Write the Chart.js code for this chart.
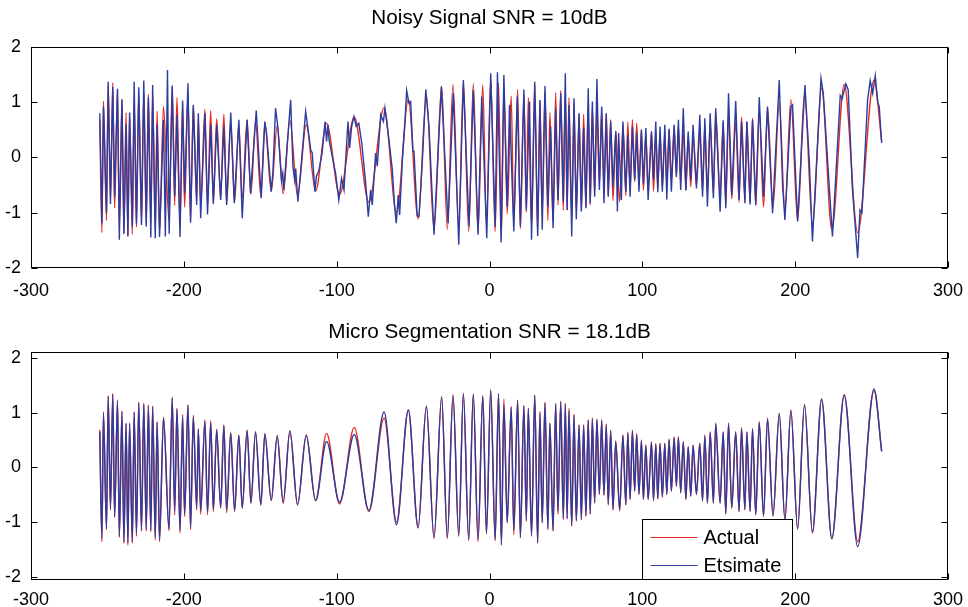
<!DOCTYPE html>
<html>
<head>
<meta charset="utf-8">
<script src="https://cdn.jsdelivr.net/npm/chart.js@4.4.1/dist/chart.umd.min.js"></script>
<style>
  html, body { margin: 0; padding: 0; background: #fff; }
  #wrap { position: relative; width: 968px; height: 607px; overflow: hidden; }
  canvas { position: absolute; left: 0; }
  #c1 { top: 0; }
  #c2 { top: 305px; }
</style>
</head>
<body>
<div id="wrap">
  <canvas id="c1" width="968" height="305"></canvas>
  <canvas id="c2" width="968" height="302"></canvas>
</div>
<script>
// peaks and troughs (x in samples, y amplitude)
const actualX = [
  -255.0,-253.6,-252.6,-250.6,-249.5,-248.0,-246.5,-245.3,-243.4,-242.2,-240.5,-239.2,-237.8,-236.6,-235.5,-233.7,-232.5,-231.0,-229.5,-227.7,
  -226.2,-224.6,-223.2,-221.6,-220.4,-218.7,-217.5,-215.9,-213.3,-209.7,-207.6,-206.0,-204.5,-202.5,-200.8,-199.5,-197.3,-195.6,-193.8,-191.6,
  -190.5,-189.0,-186.2,-184.5,-182.4,-180.7,-178.5,-175.9,-173.8,-172.0,-169.3,
  -166.8,-164.0,-161.8,-158.6,-156.1,-153.1,-149.6,-147.0,-142.8,-138.9,-135.0,-130.6,-125.6,-119.9,-113.8,-106.6,-98.1,-88.5,-78.9,
  -69.0,-60.8,-53.1,-46.7,-41.3,-36.3,-31.3,-27.6,-23.9,-20.1,-17.1,-13.6,-10.6,-7.5,-4.4,-2.0,0.8,3.7,5.9,7.8,
  9.4,11.6,14.2,15.9,18.4,20.2,22.5,24.1,25.4,27.5,29.6,31.5,33.0,34.5,36.3,38.2,39.5,41.6,43.3,44.8,
  46.6,48.3,49.6,50.8,52.0,53.8,55.3,56.8,58.6,60.1,61.6,63.1,64.6,65.9,67.3,68.8,70.3,71.9,73.4,74.9,
  76.4,77.7,79.3,80.8,82.6,85.2,87.3,89.2,90.5,92.0,93.5,95.0,96.3,
  97.8,99.4,100.7,102.3,103.8,106.0,107.3,108.8,110.1,111.6,113.1,114.7,116.0,117.5,119.0,120.8,122.3,123.6,125.1,126.8,
  128.5,130.0,131.7,133.2,135.4,137.6,139.4,140.9,142.6,144.4,146.5,148.0,150.9,152.9,154.6,156.4,158.5,161.1,163.3,164.9,
  167.1,168.4,170.5,172.1,174.2,176.5,179.3,181.9,185.5,
  189.6,193.3,197.2,201.6,206.1,211.3,217.3,224.0,232.1,240.9,251.6,256.6
];
const actualY = [
  0.68,-1.36,1.02,-1.14,1.31,-0.78,1.35,-0.92,1.23,-1.28,1.03,-1.39,0.81,-1.42,0.81,-1.39,1.02,-1.26,1.19,-1.17,
  1.17,-1.17,1.14,-1.18,1.12,-1.33,0.84,-1.36,0.92,-1.16,1.28,-0.87,1.08,-1.20,0.97,-0.90,1.15,-1.14,0.95,-0.78,
  0.71,-0.86,0.87,-0.87,0.85,-0.81,0.70,-0.75,0.78,-0.83,0.64,
  -0.81,0.59,-0.75,0.68,-0.66,0.65,-0.69,0.62,-0.61,0.58,-0.66,0.67,-0.69,0.59,-0.61,0.62,-0.67,0.73,-0.81,
  0.90,-1.00,1.05,-1.11,1.12,-1.30,1.29,-1.30,1.32,-1.26,1.35,-1.34,1.34,-1.36,1.31,-1.22,1.42,-1.34,1.35,-1.42,
  1.25,-1.02,1.11,-1.23,1.23,-1.29,1.13,-0.99,1.08,-1.26,1.32,-1.39,1.02,-1.02,1.19,-1.14,0.81,-1.17,1.17,-0.86,
  1.21,-0.96,1.17,-0.95,1.08,-1.08,0.97,-0.99,0.78,-0.96,0.78,-0.90,0.87,-0.86,0.90,-0.66,0.88,-0.50,0.87,-0.51,
  0.79,-0.69,0.68,-0.78,0.48,-0.80,0.59,-0.69,0.64,-0.59,0.68,-0.44,0.62,
  -0.50,0.50,-0.59,0.41,-0.59,0.47,-0.61,0.43,-0.58,0.44,-0.55,0.44,-0.50,0.52,-0.44,0.56,-0.35,0.56,-0.47,0.47,
  -0.59,0.38,-0.53,0.41,-0.50,0.44,-0.62,0.59,-0.66,0.65,-0.66,0.81,-0.66,0.65,-0.86,0.81,-0.75,0.65,-0.81,0.73,
  -0.78,0.65,-0.81,0.71,-0.87,0.84,-0.90,0.90,-0.90,
  0.99,-0.96,1.05,-1.14,1.15,-1.20,1.25,-1.31,1.32,-1.36,1.40,0.29
];
// micro segmentation estimate, same sample positions as actualX
const estimateY = [
  0.65,-1.30,0.98,-1.12,1.29,-0.75,1.33,-0.90,1.21,-1.26,1.01,-1.36,0.80,-1.38,0.80,-1.36,1.00,-1.20,1.17,-1.14,
  1.15,-1.13,1.12,-1.15,1.10,-1.28,0.82,-1.33,0.90,-1.13,1.26,-0.80,1.06,-1.16,0.93,-0.86,1.13,-1.10,0.92,-0.73,
  0.69,-0.80,0.84,-0.82,0.82,-0.77,0.68,-0.73,0.76,-0.78,0.62,
  -0.79,0.58,-0.74,0.67,-0.65,0.64,-0.68,0.60,-0.60,0.57,-0.64,0.66,-0.68,0.58,-0.61,0.47,-0.64,0.60,-0.79,
  1.01,-1.05,1.05,-1.10,1.11,-1.28,1.28,-1.29,1.31,-1.24,1.34,-1.32,1.33,-1.33,1.30,-1.20,1.41,-1.33,1.34,-1.41,
  1.14,-1.00,1.10,-1.15,1.21,-1.27,1.12,-0.96,1.07,-1.24,1.31,-1.37,0.98,-1.00,1.17,-1.12,0.80,-1.15,1.15,-0.80,
  1.19,-0.93,1.15,-0.93,1.03,-1.06,0.95,-0.97,0.77,-0.95,0.76,-0.88,0.86,-0.85,0.88,-0.64,0.87,-0.48,0.85,-0.50,
  0.77,-0.67,0.66,-0.77,0.47,-0.78,0.58,-0.68,0.62,-0.58,0.66,-0.43,0.60,
  -0.49,0.48,-0.58,0.40,-0.58,0.45,-0.60,0.42,-0.57,0.43,-0.54,0.43,-0.49,0.50,-0.43,0.54,-0.34,0.55,-0.46,0.46,
  -0.58,0.37,-0.52,0.40,-0.49,0.43,-0.61,0.57,-0.65,0.63,-0.65,0.79,-0.65,0.64,-0.84,0.79,-0.74,0.64,-0.80,0.71,
  -0.77,0.64,-0.80,0.70,-0.86,0.82,-0.89,0.88,-0.88,
  0.98,-0.97,1.04,-1.12,1.14,-1.18,1.24,-1.30,1.32,-1.45,1.43,0.29
];
// noisy signal (top panel, blue)
const noisyX = [
  -255.0,-253.6,-252.6,-250.6,-249.5,-248.0,-246.5,-245.3,-243.4,-242.2,-240.5,-239.2,-237.8,-236.6,-235.5,-233.7,-232.5,-231.0,-229.5,-227.7,
  -226.2,-224.6,-223.2,-221.6,-220.4,-218.7,-217.5,-215.9,-213.3,-212.1,-210.7,-209.6,-207.6,-206.0,-204.5,-202.5,-200.8,-199.5,-197.3,-195.6,
  -193.8,-191.6,-190.5,-189.0,-186.2,-184.5,-182.4,-180.7,-178.5,-175.9,-173.8,-172.0,-169.3,
  -167.0,-164.0,-161.8,-158.6,-156.4,-152.6,-149.4,-147.0,-145.9,-142.8,-141.7,-140.0,-138.5,-136.1,-135.3,-134.6,-130.1,-128.6,-127.5,-126.8,
  -125.4,-123.7,-120.3,-118.1,-117.0,-116.0,-114.2,-113.3,-111.6,-109.5,-107.6,-106.6,-105.7,-105.0,-102.9,-100.7,-98.6,-96.8,-95.2,-94.1,
  -92.6,-91.5,-90.2,-88.7,-87.2,-85.5,-83.6,-81.0,-79.3,
  -77.8,-76.7,-74.5,-73.4,-71.2,-69.4,-68.4,-65.8,-63.6,-62.1,-61.0,-59.7,-58.8,-57.0,-55.5,-54.2,-52.7,-51.6,-50.1,-49.4,
  -47.3,-46.1,-43.9,-41.7,-39.6,-36.3,-31.5,-27.1,-23.7,-20.1,-17.1,-13.4,-10.6,-7.5,-5.1,-1.8,0.8,3.7,5.2,7.6,
  9.4,11.6,13.1,15.9,18.2,20.2,22.5,24.1,26.2,27.5,29.6,31.5,33.0,34.5,36.3,38.2,40.0,41.6,43.3,44.8,
  46.6,48.3,49.6,50.8,52.0,53.8,55.3,56.8,58.6,60.1,61.6,63.1,64.6,65.9,67.3,68.8,70.3,71.9,73.4,74.9,
  76.4,77.7,79.3,80.8,82.6,83.7,84.5,86.3,87.3,89.2,90.5,92.0,93.5,95.0,96.3,
  97.8,99.4,100.7,102.3,103.8,106.0,107.3,108.8,110.1,111.6,113.1,114.7,116.0,117.5,119.0,120.8,122.3,123.6,125.1,126.8,
  128.5,130.0,131.7,133.2,135.4,137.6,139.4,140.9,142.6,144.4,146.5,148.0,150.9,152.9,154.6,156.4,158.5,161.1,163.3,164.9,
  167.1,168.4,170.5,172.1,174.2,176.5,179.3,181.9,185.2,
  189.6,191.8,193.3,197.2,198.3,201.6,206.4,209.2,211.3,216.9,218.4,224.4,229.5,230.7,233.2,234.7,237.5,240.9,242.4,243.7,
  247.4,249.1,250.7,252.4,254.0,255.0,256.6
];
const noisyY = [
  0.80,-1.19,0.92,-1.00,1.37,-0.84,1.28,-0.71,1.24,-1.49,1.05,-1.37,0.60,-1.43,0.81,-1.25,1.37,-1.20,1.27,-1.22,
  1.39,-1.25,1.09,-1.45,1.31,-1.46,0.60,-1.44,0.68,-1.43,1.58,-1.38,1.30,-0.70,0.77,-1.44,1.03,-0.65,1.34,-1.18,
  0.95,-0.86,0.80,-1.10,0.80,-1.03,0.59,-0.84,0.59,-0.77,0.56,-0.86,0.81,
  -0.83,0.68,-1.10,0.68,-0.65,0.85,-0.74,0.65,0.44,-0.62,-0.26,0.89,0.56,-0.41,-0.29,-0.59,1.04,-0.17,-0.41,-0.20,
  -0.80,-0.29,0.83,0.38,0.14,0.08,-0.62,-0.35,-0.23,0.08,0.65,0.29,0.59,0.32,0.02,-0.29,-0.77,-0.38,-0.59,-0.04,
  0.65,0.17,0.56,0.74,0.56,0.62,0.26,-0.47,-1.07,
  -0.59,-0.86,0.08,-0.16,0.77,0.65,0.89,0.32,-0.22,-0.89,-1.19,-0.68,-1.04,-0.04,0.56,1.21,0.98,1.01,0.11,0.11,
  -1.06,-1.07,-0.05,1.23,0.56,-1.40,1.28,-1.19,1.16,-1.58,1.40,-1.25,1.22,-1.40,1.10,-1.46,1.52,-1.25,1.54,-1.54,
  1.49,-0.89,0.95,-1.34,1.10,-1.25,1.23,-0.95,1.01,-1.49,1.37,-1.42,1.04,-1.31,1.29,-0.89,0.56,-1.28,0.89,-0.77,
  1.16,-0.80,1.52,-0.95,0.95,-1.43,1.07,-1.12,0.80,-0.98,0.53,-0.92,1.25,-0.83,1.01,-0.71,1.42,-0.59,0.92,-0.83,
  0.80,-0.71,0.65,-0.53,0.47,-0.98,0.44,-0.77,0.65,-0.62,0.41,-0.71,0.56,-0.41,0.45,
  -0.62,0.50,-0.47,0.53,-0.77,0.47,-0.40,0.65,-0.63,0.56,-0.62,0.59,-0.76,0.51,-0.62,0.59,-0.35,0.68,-0.59,0.89,
  -0.60,0.47,-0.41,0.59,-0.56,0.77,-0.71,0.71,-0.89,0.80,-0.74,0.89,-0.98,0.67,-0.92,1.16,-0.68,1.02,-0.77,0.65,
  -0.83,0.65,-0.85,0.68,-0.86,1.09,-0.71,0.92,-1.01,
  1.40,-0.53,-1.13,0.92,0.95,-1.16,1.31,-0.04,-1.52,1.43,1.16,-1.43,1.12,1.06,1.33,1.22,-0.59,-1.82,-0.95,-1.00,
  1.04,1.39,1.16,1.48,1.00,0.92,0.26
];

const xTicks = [-300, -200, -100, 0, 100, 200, 300];
const yTicks = [-2, -1, 0, 1, 2];

const RED = '#e62a22';
const BLUE = '#2b3da0';
const FONT = "'Liberation Sans', Arial, Helvetica, sans-serif";

function toPoints(xs, ys) {
  return xs.map((x, i) => ({ x: x, y: ys[i] }));
}

// box around the axes plus inward tick marks, matlab style
const boxPlugin = {
  id: 'box',
  afterDatasetsDraw(chart) {
    const { ctx, chartArea: a, scales } = chart;
    const L = Math.round(a.left) + 0.5, R = Math.round(a.right) - 0.5;
    const T = Math.round(a.top) + 0.5, B = Math.round(a.bottom) - 0.5;
    ctx.save();
    ctx.strokeStyle = '#000';
    ctx.lineWidth = 1;
    ctx.strokeRect(L, T, R - L, B - T);
    ctx.beginPath();
    scales.x.ticks.forEach(t => {
      const px = Math.round(scales.x.getPixelForValue(t.value)) + 0.5;
      ctx.moveTo(px, B); ctx.lineTo(px, B - 6);
      ctx.moveTo(px, T); ctx.lineTo(px, T + 6);
    });
    scales.y.ticks.forEach(t => {
      const py = Math.round(scales.y.getPixelForValue(t.value)) + 0.5;
      ctx.moveTo(L, py); ctx.lineTo(L + 6, py);
      ctx.moveTo(R, py); ctx.lineTo(R - 6, py);
    });
    ctx.stroke();
    ctx.restore();
  }
};

// legend box sitting inside the bottom-right of the lower axes
const legendBox = {
  id: 'legendBox',
  afterDatasetsDraw(chart) {
    const { ctx, chartArea: a } = chart;
    const x0 = 642.5, x1 = 792.5, y0 = a.bottom - 60.5, y1 = a.bottom - 0.5;
    ctx.save();
    ctx.fillStyle = '#fff';
    ctx.fillRect(x0, y0, x1 - x0, y1 - y0);
    ctx.strokeStyle = '#000';
    ctx.lineWidth = 1;
    ctx.strokeRect(x0, y0, x1 - x0, y1 - y0);
    ctx.font = '20px ' + FONT;
    ctx.textBaseline = 'middle';
    ctx.fillStyle = '#000';
    const rows = [y0 + 18, y0 + 46];
    chart.data.datasets.slice().reverse().forEach((ds, i) => {
      ctx.strokeStyle = ds.borderColor;
      ctx.beginPath();
      ctx.moveTo(x0 + 8, rows[i]);
      ctx.lineTo(x0 + 55, rows[i]);
      ctx.stroke();
      ctx.fillText(ds.label, x0 + 61, rows[i] + 1);
    });
    ctx.restore();
  }
};

function makeOptions(title, titlePad, yMin, yMax, xAxisH, xTickPad) {
  return {
    responsive: false,
    animation: false,
    layout: { padding: { left: 0, right: 20, top: 0, bottom: 0 }, autoPadding: false },
    plugins: {
      legend: { display: false },
      tooltip: { enabled: false },
      title: {
        display: true,
        text: title,
        fullSize: false,
        color: '#000',
        font: { family: FONT, size: 20.7, weight: 'normal' },
        padding: titlePad
      }
    },
    scales: {
      x: {
        type: 'linear',
        min: -300,
        max: 300,
        afterBuildTicks: s => { s.ticks = xTicks.map(v => ({ value: v })); },
        afterFit: s => { s.height = xAxisH; s.paddingLeft = 0; s.paddingRight = 0; },
        grid: { display: false, drawTicks: false },
        border: { display: false },
        ticks: {
          color: '#000',
          padding: xTickPad,
          autoSkip: false,
          maxRotation: 0,
          font: { family: FONT, size: 18 }
        }
      },
      y: {
        type: 'linear',
        min: yMin,
        max: yMax,
        afterBuildTicks: s => { s.ticks = yTicks.map(v => ({ value: v })); },
        afterFit: s => { s.width = 31; s.paddingTop = 0; s.paddingBottom = 0; },
        grid: { display: false, drawTicks: false },
        border: { display: false },
        ticks: {
          color: '#000',
          padding: 10,
          font: { family: FONT, size: 18 }
        }
      }
    }
  };
}

new Chart(document.getElementById('c1'), {
  type: 'line',
  data: {
    datasets: [
      {
        label: 'Noisy',
        data: toPoints(noisyX, noisyY),
        borderColor: BLUE,
        borderWidth: 1.4,
        pointRadius: 0,
        tension: 0,
        order: 1
      },
      {
        label: 'Actual',
        data: toPoints(actualX, actualY),
        borderColor: RED,
        borderWidth: 1.4,
        pointRadius: 0,
        cubicInterpolationMode: 'monotone',
        order: 2
      }
    ]
  },
  options: makeOptions('Noisy Signal SNR = 10dB', { top: 6, bottom: 16 }, -2, 2, 37, 12),
  plugins: [boxPlugin]
});

new Chart(document.getElementById('c2'), {
  type: 'line',
  data: {
    datasets: [
      {
        label: 'Etsimate',
        data: toPoints(actualX, estimateY),
        borderColor: BLUE,
        borderWidth: 1.4,
        pointRadius: 0,
        cubicInterpolationMode: 'monotone',
        order: 1
      },
      {
        label: 'Actual',
        data: toPoints(actualX, actualY),
        borderColor: RED,
        borderWidth: 1.4,
        pointRadius: 0,
        cubicInterpolationMode: 'monotone',
        order: 2
      }
    ]
  },
  options: makeOptions('Micro Segmentation SNR = 18.1dB', { top: 15, bottom: 7 }, -2.06, 2.11, 27, 9),
  plugins: [legendBox, boxPlugin]
});
</script>
</body>
</html>
